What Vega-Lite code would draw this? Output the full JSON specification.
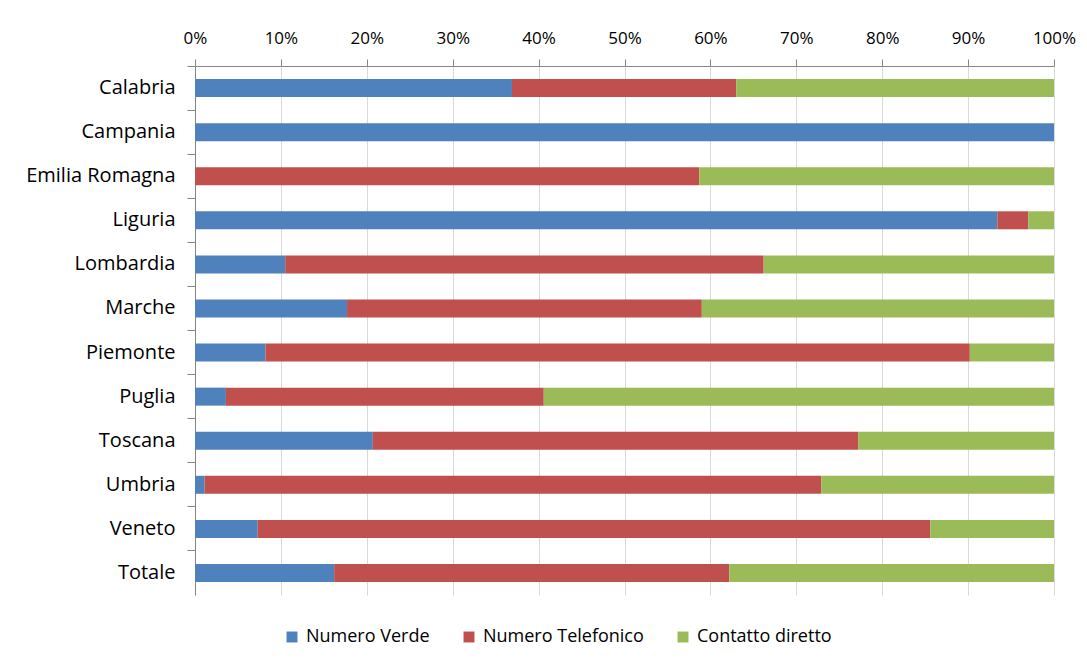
{
  "$schema": "https://vega.github.io/schema/vega-lite/v6.json",
  "autosize": {"type": "none"},
  "width": 859,
  "height": 529,
  "padding": {"left": 195, "top": 66, "right": 33, "bottom": 66},
  "background": "white",
  "data": {"values": [
    {"regione": "Calabria", "canale": "Numero Verde", "k": 1, "v": 0.369},
    {"regione": "Calabria", "canale": "Numero Telefonico", "k": 2, "v": 0.261},
    {"regione": "Calabria", "canale": "Contatto diretto", "k": 3, "v": 0.370},
    {"regione": "Campania", "canale": "Numero Verde", "k": 1, "v": 1.0},
    {"regione": "Campania", "canale": "Numero Telefonico", "k": 2, "v": 0.0},
    {"regione": "Campania", "canale": "Contatto diretto", "k": 3, "v": 0.0},
    {"regione": "Emilia Romagna", "canale": "Numero Verde", "k": 1, "v": 0.0},
    {"regione": "Emilia Romagna", "canale": "Numero Telefonico", "k": 2, "v": 0.587},
    {"regione": "Emilia Romagna", "canale": "Contatto diretto", "k": 3, "v": 0.413},
    {"regione": "Liguria", "canale": "Numero Verde", "k": 1, "v": 0.934},
    {"regione": "Liguria", "canale": "Numero Telefonico", "k": 2, "v": 0.036},
    {"regione": "Liguria", "canale": "Contatto diretto", "k": 3, "v": 0.030},
    {"regione": "Lombardia", "canale": "Numero Verde", "k": 1, "v": 0.105},
    {"regione": "Lombardia", "canale": "Numero Telefonico", "k": 2, "v": 0.557},
    {"regione": "Lombardia", "canale": "Contatto diretto", "k": 3, "v": 0.338},
    {"regione": "Marche", "canale": "Numero Verde", "k": 1, "v": 0.177},
    {"regione": "Marche", "canale": "Numero Telefonico", "k": 2, "v": 0.413},
    {"regione": "Marche", "canale": "Contatto diretto", "k": 3, "v": 0.410},
    {"regione": "Piemonte", "canale": "Numero Verde", "k": 1, "v": 0.082},
    {"regione": "Piemonte", "canale": "Numero Telefonico", "k": 2, "v": 0.820},
    {"regione": "Piemonte", "canale": "Contatto diretto", "k": 3, "v": 0.098},
    {"regione": "Puglia", "canale": "Numero Verde", "k": 1, "v": 0.036},
    {"regione": "Puglia", "canale": "Numero Telefonico", "k": 2, "v": 0.370},
    {"regione": "Puglia", "canale": "Contatto diretto", "k": 3, "v": 0.594},
    {"regione": "Toscana", "canale": "Numero Verde", "k": 1, "v": 0.207},
    {"regione": "Toscana", "canale": "Numero Telefonico", "k": 2, "v": 0.565},
    {"regione": "Toscana", "canale": "Contatto diretto", "k": 3, "v": 0.228},
    {"regione": "Umbria", "canale": "Numero Verde", "k": 1, "v": 0.011},
    {"regione": "Umbria", "canale": "Numero Telefonico", "k": 2, "v": 0.718},
    {"regione": "Umbria", "canale": "Contatto diretto", "k": 3, "v": 0.271},
    {"regione": "Veneto", "canale": "Numero Verde", "k": 1, "v": 0.073},
    {"regione": "Veneto", "canale": "Numero Telefonico", "k": 2, "v": 0.783},
    {"regione": "Veneto", "canale": "Contatto diretto", "k": 3, "v": 0.144},
    {"regione": "Totale", "canale": "Numero Verde", "k": 1, "v": 0.162},
    {"regione": "Totale", "canale": "Numero Telefonico", "k": 2, "v": 0.460},
    {"regione": "Totale", "canale": "Contatto diretto", "k": 3, "v": 0.378}
  ]},
  "mark": {"type": "bar", "size": 18},
  "encoding": {
    "y": {
      "field": "regione", "type": "nominal", "sort": null,
      "scale": {"paddingInner": 0, "paddingOuter": 0},
      "axis": {
        "title": null, "bandPosition": 0, "domainColor": "#868686", "tickColor": "#868686",
        "tickSize": 8, "labelPadding": 12, "labelFontSize": 20, "labelFont": "Open Sans",
        "labelColor": "#000000", "grid": false, "labelLimit": 300
      }
    },
    "x": {
      "field": "v", "type": "quantitative", "stack": "normalize",
      "scale": {"domain": [0, 1], "nice": false},
      "axis": {
        "orient": "top", "title": null, "format": ".0%",
        "values": [0, 0.1, 0.2, 0.3, 0.4, 0.5, 0.6, 0.7, 0.8, 0.9, 1],
        "domainColor": "#868686", "tickColor": "#868686", "tickSize": 7,
        "labelPadding": 12, "labelFontSize": 17, "labelFont": "Open Sans", "labelColor": "#000000",
        "grid": true, "gridColor": "#d9d9d9", "labelFlush": false
      }
    },
    "color": {
      "field": "canale", "type": "nominal",
      "scale": {"domain": ["Numero Verde", "Numero Telefonico", "Contatto diretto"], "range": ["#4F81BD", "#C0504D", "#9BBB59"]},
      "legend": {
        "orient": "none", "legendX": 88, "legendY": 562, "direction": "horizontal", "title": null,
        "symbolType": "square", "symbolSize": 120, "symbolStrokeWidth": 0,
        "labelFontSize": 18, "labelFont": "Open Sans", "labelColor": "#000000",
        "columnPadding": 30, "labelOffset": 5, "labelLimit": 300
      }
    },
    "order": {"field": "k", "type": "quantitative"}
  },
  "config": {"view": {"stroke": null}}
}
